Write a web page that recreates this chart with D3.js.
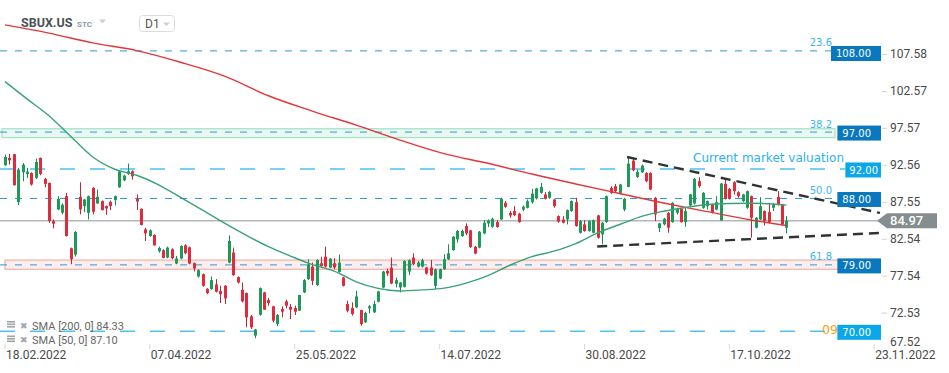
<!DOCTYPE html>
<html>
<head>
<meta charset="utf-8">
<script src="https://cdn.jsdelivr.net/npm/d3@7"></script>
<style>
  html, body { margin: 0; padding: 0; background: #fff; }
  svg { display: block; font-family: Roboto, sans-serif; }
</style>
</head>
<body>
<svg id="chart" width="949" height="373"></svg>
<script>
// SBUX.US daily candles, 18.02.2022 onwards (one entry per session)
const opens = [
  92.50, 93.49, 94.00, 87.50, 91.55, 91.33, 91.46, 90.79, 93.49, 90.65,
  90.11, 84.94, 86.51, 86.06, 88.31, 81.25, 80.40, 88.22, 86.96, 86.06,
  89.44, 87.32, 87.64, 86.96, 87.55, 87.77, 89.53, 90.47, 91.33, 91.69,
  87.95, 86.60, 83.81, 82.91, 83.05, 80.85, 80.98, 79.99, 81.12, 79.18,
  79.86, 81.65, 81.38, 79.23, 77.43, 77.74, 75.72, 75.72, 76.35, 75.45,
  76.17, 79.32, 80.67, 77.34, 75.63, 75.18, 72.03, 69.42, 72.25, 75.27,
  74.23, 73.38, 70.99, 73.02, 74.05, 73.33, 73.15, 72.79, 75.27, 77.06,
  78.77, 76.25, 79.22, 80.12, 78.64, 79.22, 78.05, 77.29, 73.69, 73.15,
  73.24, 72.88, 71.22, 73.11, 72.57, 74.01, 75.94, 78.19, 78.64, 76.44,
  75.94, 76.03, 78.10, 79.99, 78.77, 78.77, 78.64, 78.64, 76.16, 77.15,
  78.41, 79.76, 81.02, 82.46, 82.91, 84.26, 83.68, 81.47, 81.34, 83.27,
  84.62, 84.17, 84.80, 85.16, 87.41, 86.06, 86.29, 85.93, 86.51, 86.74,
  87.50, 88.00, 88.76, 88.54, 88.09, 87.86, 85.61, 85.16, 85.16, 86.29,
  87.50, 83.36, 84.49, 83.59, 83.36, 85.70, 83.14, 84.80, 89.44, 89.66,
  88.76, 86.51, 89.57, 93.13, 90.92, 91.55, 91.46, 91.46, 88.09, 83.99,
  84.49, 86.06, 84.80, 86.06, 86.60, 84.80, 87.05, 87.32, 90.34, 86.74,
  86.96, 87.19, 86.51, 85.03, 89.98, 89.30, 90.20, 88.85, 87.64, 86.74,
  88.31, 84.04, 85.16, 86.29, 86.15, 86.74, 88.22, 87.19, 84.04
]
const highs = [
  93.94, 94.03, 94.05, 92.14, 92.81, 92.14, 91.55, 93.40, 93.55, 90.79,
  90.15, 85.16, 88.31, 87.32, 88.76, 81.34, 83.59, 90.20, 87.95, 88.40,
  89.53, 89.21, 87.73, 87.05, 87.73, 88.40, 91.82, 91.24, 92.72, 91.82,
  88.54, 86.65, 84.04, 83.81, 83.14, 81.47, 81.12, 81.47, 81.25, 80.22,
  81.65, 81.79, 81.47, 79.32, 78.42, 77.83, 75.85, 77.43, 77.07, 76.17,
  76.26, 83.00, 81.34, 77.43, 76.62, 75.27, 72.21, 70.32, 75.94, 75.36,
  74.50, 73.47, 72.34, 73.38, 74.28, 73.69, 73.47, 74.95, 77.06, 79.76,
  79.31, 79.76, 80.12, 81.47, 79.90, 79.90, 80.39, 77.38, 74.14, 73.92,
  75.49, 72.93, 72.66, 73.56, 74.14, 75.49, 78.19, 78.50, 79.99, 77.29,
  76.70, 79.63, 79.76, 80.57, 79.54, 79.85, 78.73, 79.67, 78.50, 78.50,
  80.44, 81.79, 82.91, 83.72, 83.81, 84.62, 83.72, 81.56, 83.59, 85.07,
  85.16, 85.39, 85.07, 88.09, 87.64, 86.29, 86.96, 86.06, 87.05, 87.86,
  89.30, 89.44, 90.11, 88.85, 88.99, 87.95, 85.70, 85.61, 86.51, 87.73,
  88.09, 85.07, 85.07, 85.03, 85.16, 85.79, 84.80, 88.40, 89.66, 89.98,
  89.98, 88.09, 93.49, 93.49, 91.91, 92.59, 91.55, 91.55, 88.18, 84.71,
  85.39, 86.15, 87.50, 86.74, 86.74, 86.74, 88.63, 90.79, 90.88, 88.85,
  87.73, 87.32, 88.31, 90.11, 90.65, 89.44, 90.34, 88.99, 88.63, 89.08,
  88.40, 85.48, 88.18, 86.38, 87.41, 87.41, 88.99, 87.28, 85.61
]
const lows = [
  92.45, 92.59, 89.75, 87.10, 90.34, 90.79, 89.75, 90.65, 91.15, 89.53,
  84.71, 83.95, 86.42, 85.84, 82.85, 79.09, 80.13, 85.84, 86.15, 85.16,
  85.84, 87.28, 86.38, 85.79, 86.42, 87.05, 89.44, 90.34, 91.19, 90.56,
  86.42, 84.35, 82.24, 82.82, 81.60, 80.67, 79.90, 79.90, 79.77, 79.09,
  79.77, 80.44, 79.09, 78.10, 77.29, 76.03, 75.04, 75.63, 75.27, 73.83,
  73.69, 79.23, 77.52, 76.48, 73.92, 70.54, 70.32, 69.06, 72.12, 72.88,
  73.47, 71.22, 70.68, 71.89, 73.11, 71.67, 72.21, 72.75, 75.18, 76.97,
  76.25, 76.16, 78.64, 78.64, 78.55, 78.41, 77.96, 76.07, 72.57, 72.12,
  73.15, 70.77, 71.13, 72.43, 72.48, 73.92, 75.85, 77.51, 76.39, 75.94,
  75.27, 75.94, 77.60, 78.95, 78.64, 78.64, 77.69, 77.51, 75.72, 77.06,
  78.32, 79.67, 80.93, 82.01, 82.82, 83.05, 81.29, 80.44, 81.25, 83.14,
  84.13, 84.04, 84.04, 85.07, 86.74, 85.39, 85.61, 84.71, 86.29, 86.65,
  87.32, 87.86, 88.63, 87.86, 87.95, 86.74, 84.71, 84.62, 84.49, 86.20,
  84.17, 83.23, 83.50, 83.50, 83.27, 82.55, 81.79, 84.71, 88.63, 88.85,
  88.54, 86.29, 89.53, 91.69, 90.79, 91.46, 90.20, 89.12, 84.94, 83.45,
  84.35, 83.36, 84.71, 85.84, 84.71, 84.17, 86.96, 87.19, 89.44, 86.60,
  86.51, 85.97, 86.38, 84.94, 87.86, 87.86, 88.54, 88.09, 87.50, 86.60,
  82.69, 83.95, 85.07, 84.35, 84.62, 86.29, 87.05, 84.35, 83.27
]
const closes = [
  93.62, 93.17, 89.80, 91.91, 92.59, 91.64, 89.89, 92.95, 91.33, 89.98,
  84.94, 84.58, 87.95, 87.14, 82.91, 79.77, 83.45, 86.51, 87.86, 88.31,
  86.20, 88.22, 86.42, 86.65, 86.96, 88.31, 91.69, 91.10, 91.69, 91.01,
  87.59, 84.40, 83.27, 83.68, 81.65, 81.29, 79.95, 81.34, 79.90, 79.86,
  81.56, 80.58, 79.18, 78.51, 78.28, 76.17, 75.18, 76.93, 75.36, 75.04,
  74.46, 82.24, 77.61, 76.62, 74.05, 71.89, 70.54, 70.23, 75.85, 72.93,
  73.83, 71.44, 72.21, 72.66, 73.47, 72.93, 72.66, 74.91, 76.93, 79.09,
  76.84, 79.67, 78.86, 78.77, 79.85, 78.64, 79.31, 76.16, 72.79, 72.34,
  74.73, 70.99, 72.48, 73.38, 73.69, 75.40, 78.10, 77.83, 76.48, 76.93,
  76.61, 79.54, 79.63, 79.09, 79.31, 79.63, 77.83, 77.60, 78.41, 78.41,
  79.76, 80.57, 82.82, 83.59, 83.59, 83.27, 81.43, 80.53, 83.50, 84.71,
  85.03, 85.25, 84.13, 87.95, 86.87, 85.70, 85.75, 84.80, 86.87, 87.64,
  88.67, 89.35, 89.57, 88.00, 88.90, 86.96, 84.85, 84.71, 86.42, 87.64,
  84.26, 84.94, 83.59, 84.94, 85.07, 82.69, 84.71, 88.31, 88.76, 88.99,
  89.89, 87.95, 92.72, 91.82, 91.60, 92.45, 90.34, 89.21, 85.84, 84.62,
  85.25, 84.04, 87.41, 86.60, 84.80, 86.29, 88.54, 90.65, 89.66, 88.76,
  87.64, 86.06, 87.50, 90.02, 87.95, 87.95, 88.99, 88.31, 88.54, 88.99,
  85.39, 85.39, 86.96, 84.94, 84.80, 87.19, 87.19, 84.49, 84.97
]

const sma200Idx = [0, 10, 20, 30, 40, 50, 60, 70, 80, 90, 100, 110, 120, 130, 140, 150, 160, 170, 178]
const sma200 = [111.53, 110.41, 109.08, 108.04, 106.46, 104.58, 101.92, 99.84, 97.94, 95.91,
                94.08, 92.77, 91.31, 89.97, 88.68, 87.39, 86.21, 85.08, 84.33]
const sma50Idx = [0, 5, 10, 15, 20, 25, 30, 35, 40, 45, 50, 55, 60, 65, 70, 75, 80, 85, 90,
                  95, 100, 105, 110, 115, 120, 125, 130, 135, 140, 145, 150, 155, 160, 165, 170, 175, 178]
const sma50 = [103.83, 101.50, 99.21, 96.41, 93.62, 91.96, 91.15, 89.86, 88.15, 86.41, 84.65,
               83.00, 81.46, 80.20, 79.04, 78.15, 76.71, 75.81, 75.47, 75.61, 75.85, 76.53,
               77.55, 78.95, 80.11, 80.86, 81.89, 83.34, 84.47, 85.58, 86.27, 86.78, 87.18,
               87.32, 87.35, 87.25, 87.10]

// horizontal levels, fibonacci labels, zones
const levels = [108, 97, 92, 88, 79, 70]
const levelKinds = ["dark", "dark", "tag", "dark", "dark", "light"]
const fibLevels = [108, 97, 88, 79]
const fibLabels = ["23.6", "38.2", "50.0", "61.8"]
const greenZone = [96.25, 97.45]
const redZone = [78.4, 79.65]
const lastPrice = 84.97

// triangle trend lines: [session index, price]
const upperTrend = [[141.7, 93.62], [199.3, 86.04]]
const lowerTrend = [[134.9, 81.50], [199.3, 83.33]]

// axes
const yTicks = [107.58, 102.57, 97.57, 92.56, 87.55, 82.54, 77.54, 72.53, 67.52]
const xTickIdx = [0, 33, 66, 99, 132, 165, 198]
const xTickLabels = ["18.02.2022", "07.04.2022", "25.05.2022", "14.07.2022", "30.08.2022", "17.10.2022", "23.11.2022"]

const svg = d3.select("#chart")
const x = d3.scaleLinear().domain([0, 200]).range([5, 883])
const y = d3.scaleLinear().domain([108, 70]).range([50.9, 331.3])

const UP = "#1d9a58", UP_WICK = "#178a4c"
const DOWN = "#df2b3b", DOWN_WICK = "#c92232"
const boxRight = 881

// zones
svg.append("rect")
  .attr("x", 2).attr("width", 833)
  .attr("y", y(greenZone[1])).attr("height", y(greenZone[0]) - y(greenZone[1]))
  .attr("fill", "#eaf8f1").attr("stroke", "#a6e3c8").attr("stroke-width", 1.3)
svg.append("rect")
  .attr("x", 5).attr("width", 838)
  .attr("y", y(redZone[1])).attr("height", y(redZone[0]) - y(redZone[1]))
  .attr("fill", "#fdeeee").attr("stroke", "#f3b5b5").attr("stroke-width", 1.3)

// measure level label widths
const levelFont = "10px 'DejaVu Sans'"
const measure = svg.append("text").style("font", levelFont)
const labelW = levels.map(v => {
  measure.text(d3.format(".2f")(v))
  return measure.node().getComputedTextLength()
})
measure.remove()
const boxLeft = levels.map((v, i) => boxRight - labelW[i] - (levelKinds[i] === "tag" ? 7 : 15))

// level lines
svg.selectAll(".level-line")
  .data(levels)
  .enter()
  .append("line")
  .attr("class", "level-line")
  .attr("x1", 0)
  .attr("x2", (_, i) => boxLeft[i])
  .attr("y1", d => y(d))
  .attr("y2", d => y(d))
  .attr("stroke", (_, i) => levelKinds[i] === "dark" ? "#2a9ad8" : "#4ec1f3")
  .attr("stroke-width", (_, i) => levelKinds[i] === "dark" ? 1 : 1.6)
  .attr("stroke-dasharray", (_, i) => levelKinds[i] === "dark" ? "7,8" : "15,15")

// last price line
svg.append("line")
  .attr("x1", 0).attr("x2", 878)
  .attr("y1", y(lastPrice)).attr("y2", y(lastPrice))
  .attr("stroke", "#8b9397").attr("stroke-width", 1)

// candles
const candles = d3.range(opens.length)
const g = svg.append("g")
g.selectAll(".wick")
  .data(candles)
  .enter()
  .append("line")
  .attr("class", "wick")
  .attr("x1", i => Math.round(x(i)) + 0.5)
  .attr("x2", i => Math.round(x(i)) + 0.5)
  .attr("y1", i => y(highs[i]))
  .attr("y2", i => y(lows[i]))
  .attr("stroke", i => closes[i] >= opens[i] ? UP_WICK : DOWN_WICK)
  .attr("stroke-width", 1)
g.selectAll(".body")
  .data(candles)
  .enter()
  .append("rect")
  .attr("class", "body")
  .attr("x", i => Math.round(x(i)) - 1)
  .attr("width", 3)
  .attr("y", i => y(Math.max(opens[i], closes[i])))
  .attr("height", i => Math.max(1, Math.abs(y(opens[i]) - y(closes[i]))))
  .attr("fill", i => closes[i] >= opens[i] ? UP : DOWN)

// moving averages
const smaLine = d3.line().curve(d3.curveMonotoneX)
svg.append("path")
  .attr("d", smaLine(sma200Idx.map((d, k) => [x(d), y(sma200[k])])))
  .attr("fill", "none").attr("stroke", "#e2373a").attr("stroke-width", 1.4)
svg.append("path")
  .attr("d", smaLine(sma50Idx.map((d, k) => [x(d), y(sma50[k])])))
  .attr("fill", "none").attr("stroke", "#3aa277").attr("stroke-width", 1.4)

// triangle trend lines
;[upperTrend, lowerTrend].forEach(t => {
  svg.append("line")
    .attr("x1", x(t[0][0])).attr("y1", y(t[0][1]))
    .attr("x2", x(t[1][0])).attr("y2", y(t[1][1]))
    .attr("stroke", "#2e3336").attr("stroke-width", 2.4)
    .attr("stroke-dasharray", "10,6")
})

// text annotations
svg.append("text")
  .attr("x", 693).attr("y", 162)
  .style("font", "12px 'DejaVu Sans'")
  .attr("fill", "#2cb0f0")
  .text("Current market valuation")

svg.selectAll(".fib")
  .data(fibLevels)
  .enter()
  .append("text")
  .attr("class", "fib")
  .attr("x", 832)
  .attr("y", d => y(d) - 4.5)
  .attr("text-anchor", "end")
  .style("font", levelFont)
  .attr("fill", "#3db5f0")
  .text((_, i) => fibLabels[i])

// countdown, its visible part left of the 70.00 box
svg.append("text")
  .attr("x", 822).attr("y", 334)
  .style("font", "12.5px 'DejaVu Sans'")
  .attr("fill", "#f7a021")
  .text("09")

// level boxes
svg.selectAll(".level-box")
  .data(levels)
  .enter()
  .append("rect")
  .attr("class", "level-box")
  .attr("x", (_, i) => boxLeft[i])
  .attr("width", (_, i) => boxRight - boxLeft[i])
  .attr("y", d => Math.max(y(d) + 1, 53.5) - 7.5)
  .attr("height", 15)
  .attr("fill", (_, i) => levelKinds[i] === "dark" ? "#0a78be" : "#0aa7ea")
svg.selectAll(".level-text")
  .data(levels)
  .enter()
  .append("text")
  .attr("class", "level-text")
  .attr("x", (_, i) => boxLeft[i] + (levelKinds[i] === "tag" ? 4 : 5))
  .attr("y", d => Math.max(y(d) + 1, 53.5) + 3.6)
  .style("font", levelFont)
  .attr("fill", "#fff")
  .text(d => d3.format(".2f")(d))

// last price tag
const ly = y(lastPrice)
svg.append("path")
  .attr("d", `M877,${ly} L887,${ly - 7.5} L937,${ly - 7.5} L937,${ly + 7.5} L887,${ly + 7.5} Z`)
  .attr("fill", "#858d90")
svg.append("text")
  .attr("x", 890).attr("y", ly + 4.5)
  .style("font", "500 13px Roboto")
  .attr("fill", "#fff")
  .text(d3.format(".2f")(lastPrice))

// right price axis
const yAxis = d3.axisRight(y)
  .tickValues(yTicks)
  .tickFormat(d3.format(".2f"))
  .tickSize(5)
  .tickPadding(3)
const ya = svg.append("g").attr("transform", "translate(882,0)").call(yAxis)
ya.select(".domain").remove()
ya.selectAll(".tick line").attr("stroke", "#d5d5d5")
ya.selectAll(".tick text")
  .attr("fill", "#4a4a4a")
  .style("font", "12px Roboto")
ya.selectAll(".tick").filter(d => y(d) > 340)
  .select("text").attr("y", d => 342 - y(d))
ya.selectAll(".tick").filter(d => y(d) > 340).select("line").remove()

// bottom date axis
svg.selectAll(".xtick")
  .data(xTickIdx)
  .enter()
  .append("line")
  .attr("class", "xtick")
  .attr("x1", d => x(d)).attr("x2", d => x(d))
  .attr("y1", 344).attr("y2", 349)
  .attr("stroke", "#d8d8d8")
svg.selectAll(".xlabel")
  .data(xTickIdx)
  .enter()
  .append("text")
  .attr("class", "xlabel")
  .attr("x", d => x(d) + 1)
  .attr("y", 359)
  .style("font", "12px Roboto")
  .attr("fill", "#4a4a4a")
  .text((_, i) => xTickLabels[i])

// header
svg.append("text").attr("x", 21).attr("y", 27)
  .style("font", "bold 12.5px Roboto").attr("fill", "#4b5157").text("SBUX.US")
svg.append("text").attr("x", 77).attr("y", 27)
  .style("font", "bold 8px Roboto").attr("fill", "#8d9ba6").text("STC")
svg.append("path").attr("d", "M99,19.5 L106,19.5 L102.5,23.5 Z").attr("fill", "#cfcfcf")
svg.append("rect").attr("x", 139.5).attr("y", 15.5).attr("width", 35).attr("height", 16)
  .attr("rx", 3).attr("fill", "#fff").attr("stroke", "#dcdcdc")
svg.append("text").attr("x", 145).attr("y", 27.5)
  .style("font", "12px Roboto").attr("fill", "#555").text("D1")
svg.append("path").attr("d", "M163,22.5 L170,22.5 L166.5,26 Z").attr("fill", "#cfcfcf")

// legend
const legendRows = ["SMA [200, 0] 84.33", "SMA [50, 0] 87.10"]
legendRows.forEach((t, i) => {
  const by = 329.5 + i * 14.5
  ;[0, 2.5, 5].forEach(o => {
    svg.append("rect").attr("x", 7).attr("y", by - 8.5 + o).attr("width", 8).attr("height", 1.6)
      .attr("fill", "#a0a5aa")
  })
  svg.append("text").attr("x", 20).attr("y", by - 1)
    .style("font", "bold 9px 'DejaVu Sans'").attr("fill", "#a0a5aa").text("✖")
  svg.append("text").attr("x", 32).attr("y", by)
    .style("font", "11px Roboto").attr("fill", "#666").text(t)
})
</script>
</body>
</html>
